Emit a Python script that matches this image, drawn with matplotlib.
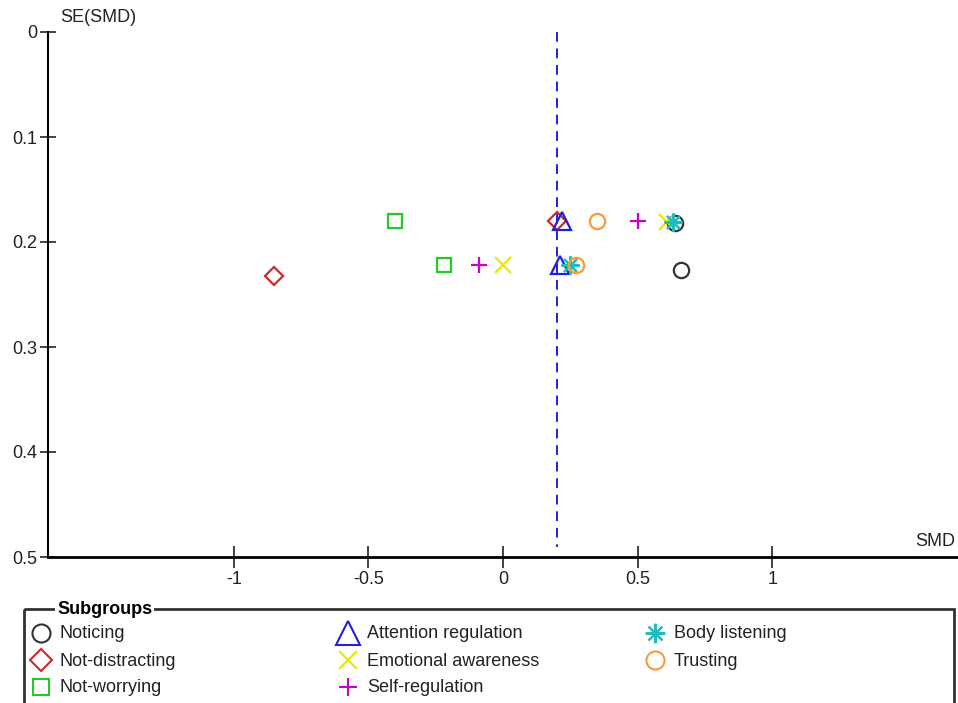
import matplotlib
matplotlib.use('Agg')
import matplotlib.pyplot as plt
from matplotlib.patches import Rectangle

plt.rcParams['font.family'] = ['Liberation Sans Narrow', 'Liberation Sans', 'DejaVu Sans']

# data: SMD (x) and SE(SMD) (y), two studies per subgroup
groups = ['Noticing', 'Not-distracting', 'Not-worrying',
          'Attention regulation', 'Emotional awareness', 'Self-regulation',
          'Body listening', 'Trusting']
smd = [[0.64, 0.66], [0.20, -0.85], [-0.40, -0.22],
       [0.22, 0.21], [0.61, 0.0], [0.50, -0.09],
       [0.63, 0.25], [0.35, 0.27]]
se = [[0.182, 0.227], [0.180, 0.232], [0.180, 0.222],
      [0.180, 0.222], [0.181, 0.222], [0.180, 0.222],
      [0.181, 0.222], [0.180, 0.222]]
pooled = 0.2
xticks = [-1, -0.5, 0, 0.5, 1]
yticks = [0, 0.1, 0.2, 0.3, 0.4, 0.5]

colors = ['#333333', '#cc2a2a', '#22cc22', '#2020dd', '#e8e800', '#cc00cc', '#20bbbb', '#ff9933']
star = (8, 2, 0)
markers = ['o', 'D', 's', '^', 'x', '+', star, 'o']
msizes = [11, 9, 9.5, 13, 11, 12, 13, 11]
lsizes = [13, 11.5, 11, 17, 13, 13, 14, 13]

W, H = 958, 703
fig = plt.figure(figsize=(W / 100, H / 100), dpi=100)
ax = fig.add_axes([48 / W, (H - 557) / H, (W - 48) / W, (557 - 32) / H])


def face(m, c):
    return 'none' if m in ('o', 'D', 's', '^') else c


for i, g in enumerate(groups):
    ax.plot(smd[i], se[i], linestyle='none', marker=markers[i], markersize=msizes[i],
            markerfacecolor=face(markers[i], colors[i]), markeredgecolor=colors[i],
            markeredgewidth=1.6, clip_on=False, zorder=3)

ax.plot([pooled, pooled], [0, 0.49], color='#2020dd', linestyle=(0, (5, 3.5)), linewidth=1.4, zorder=2)

ax.set_xlim(-1.69, 1.69)
ax.set_ylim(0.5, 0)
ax.set_xticks(xticks)
ax.set_xticklabels(['-1', '-0.5', '0', '0.5', '1'])
ax.set_yticks(yticks)
ax.set_yticklabels(['0', '0.1', '0.2', '0.3', '0.4', '0.5'])
ax.tick_params(axis='x', direction='inout', length=16, width=1.2, labelsize=13, pad=2, colors='#222222')
ax.tick_params(axis='y', direction='inout', length=12, width=1.2, labelsize=13, pad=2, colors='#222222')
for s in ['top', 'right']:
    ax.spines[s].set_visible(False)
ax.spines['bottom'].set_linewidth(2)
ax.spines['left'].set_linewidth(1.5)

fig.text(60 / W, 1 - 18 / H, 'SE(SMD)', fontsize=13, va='center', ha='left', color='#222222')
fig.text(955 / W, 1 - 542 / H, 'SMD', fontsize=13, va='center', ha='right', color='#222222')

# legend box, laid out in pixel coordinates
lg = fig.add_axes([0, 0, 1, 1], zorder=-1)
lg.set_xlim(0, W)
lg.set_ylim(H, 0)
lg.axis('off')
lg.add_patch(Rectangle((24, 609), 954 - 24, 120, facecolor='none', edgecolor='#333333', linewidth=2))
lg.text(57, 609, 'Subgroups', fontsize=13, fontweight='bold', va='center', ha='left',
        bbox=dict(facecolor='white', edgecolor='none', pad=1.5))
col_x = [41, 348, 655]
row_y = [633, 660, 687]
for i, g in enumerate(groups):
    cx = col_x[i // 3]
    cy = row_y[i % 3]
    lg.plot([cx], [cy], linestyle='none', marker=markers[i], markersize=lsizes[i],
            markerfacecolor=face(markers[i], colors[i]), markeredgecolor=colors[i],
            markeredgewidth=1.5, clip_on=False)
    lg.text(cx + 19, cy + 1, g, fontsize=13, va='center', ha='left', color='#222222')

fig.savefig('out.png', dpi=100)
